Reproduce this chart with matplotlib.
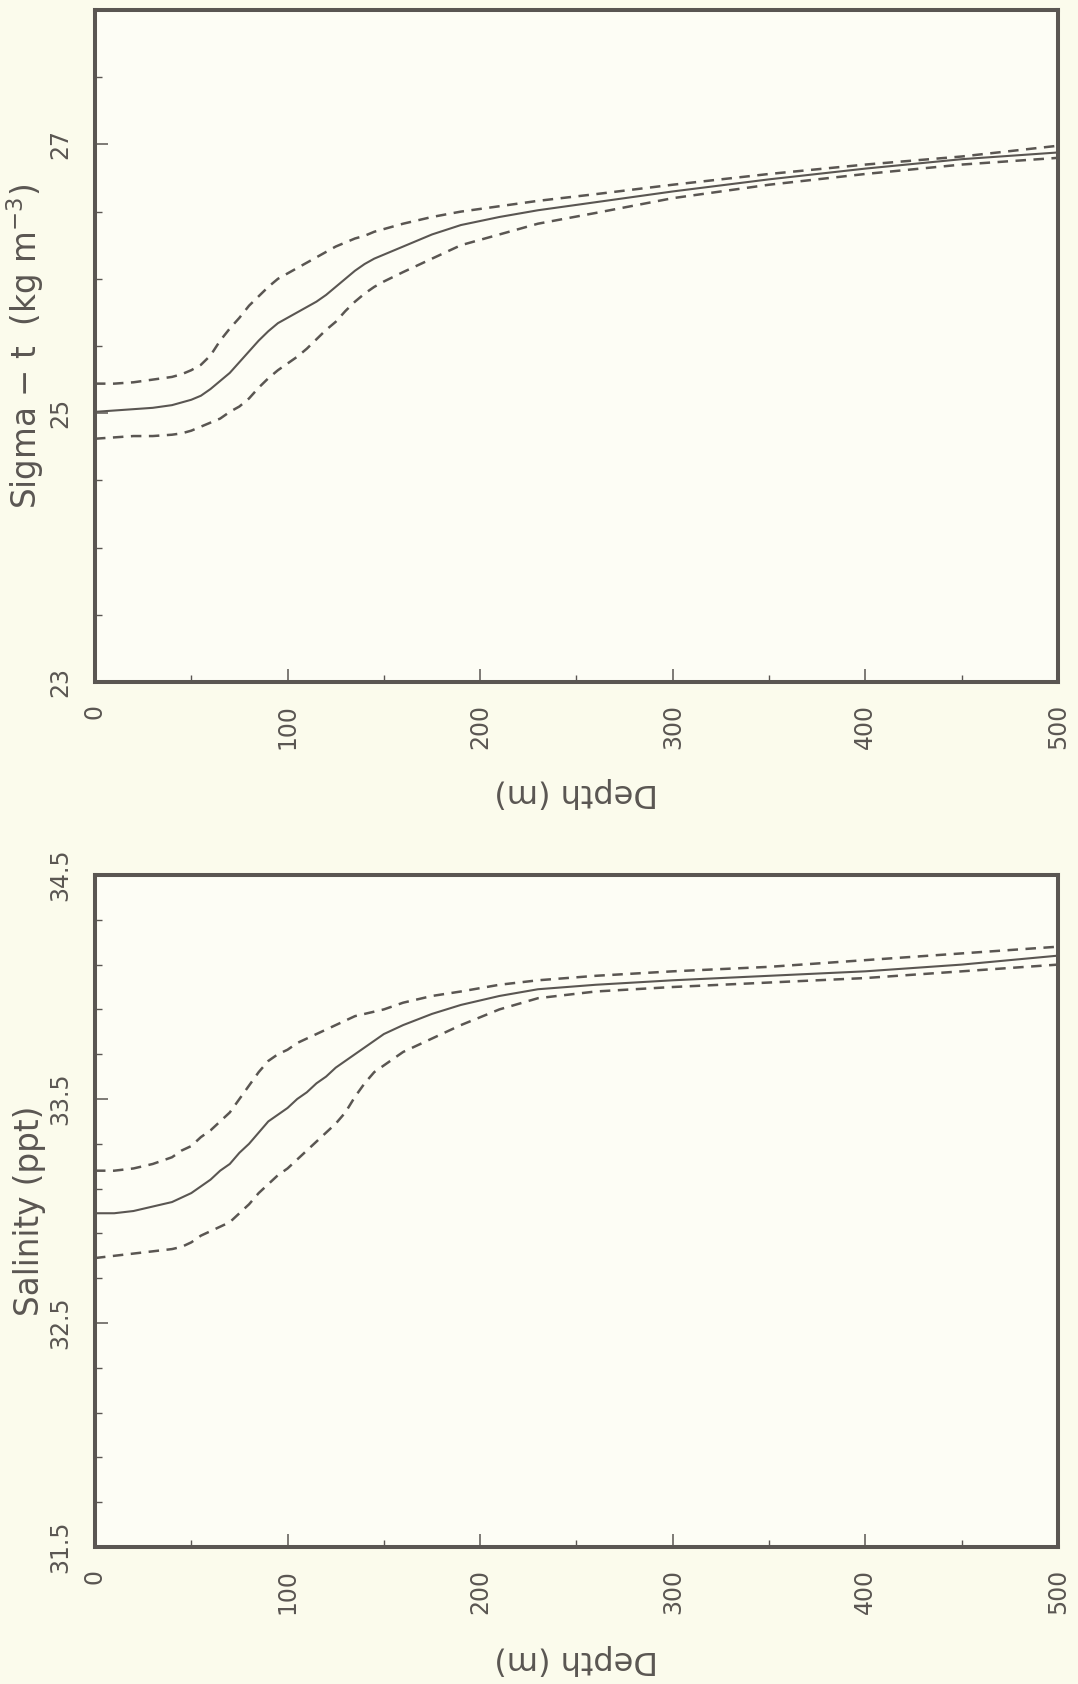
#!/usr/bin/env python3
# -*- coding: utf-8 -*-
"""
sigma-t and salinity vs depth, mean profile +/- envelope
(page is scanned sideways, so labels are rotated like the original)
"""
#%%

import numpy as np
import matplotlib
matplotlib.use('Agg')
import matplotlib.pyplot as plt
from matplotlib.ticker import MultipleLocator, FixedLocator

plt.rcParams['font.family'] = ['DejaVu Sans']
plt.rcParams['mathtext.default'] = 'regular'

#%% data

depth = [0, 10, 20, 30, 40, 45, 50, 55, 60, 65, 70, 75, 80, 85, 90, 95, 100,
         105, 110, 115, 120, 125, 130, 135, 140, 145, 150,
         160, 175, 190, 210, 230, 260, 300, 350, 400, 450, 500]

sigma_mean = [25.01, 25.02, 25.03, 25.04, 25.06, 25.08, 25.10, 25.13, 25.18, 25.24,
              25.30, 25.38, 25.46, 25.54, 25.61, 25.67, 25.71, 25.75, 25.79, 25.83,
              25.88, 25.94, 26.00, 26.06, 26.11, 26.15, 26.18,
              26.24, 26.33, 26.40, 26.46, 26.51, 26.57, 26.65, 26.74, 26.82, 26.89, 26.94]
sigma_hi = [25.22, 25.22, 25.23, 25.25, 25.27, 25.29, 25.32, 25.36, 25.43, 25.54,
            25.63, 25.71, 25.80, 25.87, 25.94, 26.00, 26.04, 26.08, 26.12, 26.16,
            26.20, 26.24, 26.27, 26.30, 26.32, 26.35, 26.37,
            26.41, 26.46, 26.50, 26.54, 26.58, 26.63, 26.70, 26.78, 26.85, 26.91, 26.99]
sigma_lo = [24.81, 24.82, 24.83, 24.83, 24.84, 24.85, 24.87, 24.90, 24.93, 24.96,
            25.01, 25.05, 25.11, 25.19, 25.26, 25.32, 25.37, 25.42, 25.48, 25.55,
            25.62, 25.68, 25.76, 25.83, 25.89, 25.94, 25.98,
            26.05, 26.15, 26.25, 26.33, 26.41, 26.49, 26.60, 26.70, 26.78, 26.85, 26.90]

sal_mean = [32.99, 32.99, 33.00, 33.02, 33.04, 33.06, 33.08, 33.11, 33.14, 33.18,
            33.21, 33.26, 33.30, 33.35, 33.40, 33.43, 33.46, 33.50, 33.53, 33.57,
            33.60, 33.64, 33.67, 33.70, 33.73, 33.76, 33.79,
            33.83, 33.88, 33.92, 33.96, 33.99, 34.01, 34.03, 34.05, 34.07, 34.10, 34.14]
sal_hi = [33.18, 33.18, 33.19, 33.21, 33.24, 33.27, 33.29, 33.33, 33.36, 33.40,
          33.44, 33.50, 33.56, 33.62, 33.67, 33.70, 33.72, 33.75, 33.77, 33.79,
          33.81, 33.83, 33.85, 33.87, 33.88, 33.89, 33.90,
          33.93, 33.96, 33.98, 34.01, 34.03, 34.05, 34.07, 34.09, 34.12, 34.15, 34.18]
sal_lo = [32.79, 32.80, 32.81, 32.82, 32.83, 32.84, 32.86, 32.89, 32.91, 32.93,
          32.95, 32.99, 33.03, 33.08, 33.12, 33.16, 33.19, 33.23, 33.27, 33.31,
          33.35, 33.39, 33.44, 33.51, 33.57, 33.62, 33.65,
          33.71, 33.77, 33.83, 33.90, 33.95, 33.98, 34.00, 34.02, 34.04, 34.07, 34.10]

sigma_ticks = [23, 25, 27]
sal_ticks = [31.5, 32.5, 33.5, 34.5]
depth_ticks = [0, 100, 200, 300, 400, 500]

#%% styling

ink = '#5a5652'
bg = '#fbfbec'
ax_bg = '#fdfdf5'

fig = plt.figure(figsize=(10.78, 16.84), dpi=100, facecolor=bg)

ax1 = fig.add_axes([0.0881, 0.59501, 0.8933, 0.39905], facecolor=ax_bg)
ax2 = fig.add_axes([0.0881, 0.08135, 0.8933, 0.39905], facecolor=ax_bg)


def style_axes(ax, yticks, yminor, ylim, ylab, xlab_y):
    ax.set_xlim(0, 500)
    ax.set_ylim(*ylim)
    ax.xaxis.set_major_locator(FixedLocator(depth_ticks))
    ax.xaxis.set_minor_locator(MultipleLocator(50))
    ax.yaxis.set_major_locator(FixedLocator(yticks))
    ax.yaxis.set_minor_locator(yminor)
    ax.tick_params(which='both', direction='in', color=ink, labelcolor=ink,
                   top=False, right=False)
    ax.tick_params(which='major', length=9.5, width=1.1, labelsize=17)
    ax.tick_params(which='minor', length=5, width=1.0)
    ax.tick_params(axis='x', pad=16)
    ax.tick_params(axis='y', pad=16)
    for lab in ax.get_xticklabels():
        lab.set_rotation(90)
    for lab in ax.get_yticklabels():
        lab.set_rotation(90)
        lab.set_va('center')
    for sp in ax.spines.values():
        sp.set_linewidth(2.9)
        sp.set_color(ink)
    ax.set_xlabel('Depth (m)', fontsize=23, color=ink, rotation=180)
    ax.xaxis.set_label_coords(0.5, xlab_y)
    ax.set_ylabel(ylab, fontsize=23.5, color=ink)
    ax.yaxis.set_label_coords(-0.051, 0.5)


def profile(ax, mean, hi, lo):
    ax.plot(depth, mean, color=ink, lw=1.5, solid_capstyle='butt')
    ax.plot(depth, hi, color=ink, lw=1.8, linestyle=(0, (4.2, 3.0)))
    ax.plot(depth, lo, color=ink, lw=1.8, linestyle=(0, (4.2, 3.0)))


#%% sigma-t

profile(ax1, sigma_mean, sigma_hi, sigma_lo)
style_axes(ax1, sigma_ticks, MultipleLocator(0.5), (23, 28),
           r'Sigma $-$ t  (kg m$^{-3}$)', -0.141)

#%% salinity

profile(ax2, sal_mean, sal_hi, sal_lo)
style_axes(ax2, sal_ticks, MultipleLocator(0.2, offset=0.1), (31.5, 34.5),
           'Salinity (ppt)', -0.144)

fig.savefig('out.png', dpi=100, facecolor=bg)
